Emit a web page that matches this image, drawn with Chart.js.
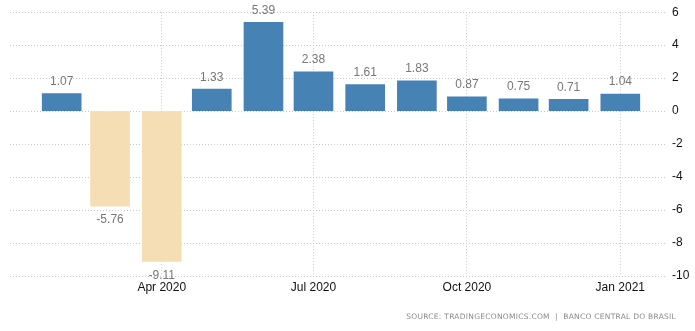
<!DOCTYPE html>
<html>
<head>
<meta charset="utf-8">
<script src="https://cdn.jsdelivr.net/npm/chart.js@4/dist/chart.umd.min.js"></script>
<style>
  body { margin: 0; background: #fff; }
  #wrap { position: relative; width: 695px; height: 331px; }
  #source {
    position: absolute; right: 19px; top: 312px;
    font: 7.5px "DejaVu Sans", sans-serif; color: #8a8a8a;
    letter-spacing: 0.27px; white-space: nowrap;
  }
</style>
</head>
<body>
<div id="wrap">
  <canvas id="chart" width="695" height="331"></canvas>
  <div id="source">SOURCE: TRADINGECONOMICS.COM&nbsp; | &nbsp;BANCO CENTRAL DO BRASIL</div>
</div>
<script>
// monthly change, Feb 2020 - Jan 2021
var months = ['2020-02-01','2020-03-01','2020-04-01','2020-05-01','2020-06-01','2020-07-01',
              '2020-08-01','2020-09-01','2020-10-01','2020-11-01','2020-12-01','2021-01-01'];
var values = [1.07, -5.76, -9.11, 1.33, 5.39, 2.38, 1.61, 1.83, 0.87, 0.75, 0.71, 1.04];
var tickMonths = ['2020-04-01','2020-07-01','2020-10-01','2021-01-01'];
var tickLabels = ['Apr 2020','Jul 2020','Oct 2020','Jan 2021'];
var yTicks = [-10, -8, -6, -4, -2, 0, 2, 4, 6];

// days since 1 Jan 2020, so bars sit on a time-like linear axis
function dayOf(s) {
  var p = s.split('-');
  return (Date.UTC(+p[0], +p[1] - 1, +p[2]) - Date.UTC(2020, 0, 1)) / 86400000;
}

var points = [];
for (var i = 0; i < months.length; i++) {
  points.push({ x: dayOf(months[i]), y: values[i] });
}
var tickDays = tickMonths.map(dayOf);

var valueLabels = {
  id: 'valueLabels',
  afterDatasetsDraw: function(chart) {
    var ctx = chart.ctx;
    var meta = chart.getDatasetMeta(0);
    ctx.save();
    ctx.font = '12px "Liberation Sans", Arial, sans-serif';
    ctx.fillStyle = '#777';
    ctx.textAlign = 'center';
    ctx.textBaseline = 'middle';
    meta.data.forEach(function(bar, i) {
      var v = values[i];
      var y = v >= 0 ? bar.y - 12 : bar.y + 14;
      ctx.fillText(v.toFixed(2), bar.x, y);
    });
    ctx.restore();
  }
};

var gridDash = [1, 2];

new Chart(document.getElementById('chart').getContext('2d'), {
  type: 'bar',
  data: {
    datasets: [{
      data: points,
      backgroundColor: values.map(function(v) { return v >= 0 ? '#4682B4' : '#F5DEB3'; }),
      barThickness: 39,
      borderWidth: 0
    }]
  },
  options: {
    responsive: false,
    animation: false,
    layout: { padding: { left: 10, top: 11, right: 0, bottom: 0 } },
    plugins: { legend: { display: false }, tooltip: { enabled: false } },
    scales: {
      x: {
        type: 'linear',
        min: 0,
        max: 394,
        offset: false,
        afterBuildTicks: function(scale) {
          scale.ticks = tickDays.map(function(d) { return { value: d }; });
        },
        afterFit: function(scale) { scale.height = 55; },
        ticks: {
          autoSkip: false,
          maxRotation: 0,
          padding: 4,
          color: '#111',
          font: { family: '"Liberation Sans", Arial, sans-serif', size: 12 },
          callback: function(val) {
            var k = tickDays.indexOf(val);
            return k >= 0 ? tickLabels[k] : '';
          }
        },
        grid: { color: '#c8c8c8', drawTicks: false, offset: false },
        border: { display: false, dash: gridDash }
      },
      y: {
        position: 'right',
        min: -10,
        max: 6,
        afterBuildTicks: function(scale) {
          scale.ticks = yTicks.map(function(v) { return { value: v }; });
        },
        afterFit: function(scale) { scale.width = 28; },
        ticks: {
          padding: 5,
          color: '#111',
          font: { family: '"Liberation Sans", Arial, sans-serif', size: 12 }
        },
        grid: { color: '#c8c8c8', drawTicks: false },
        border: { display: false, dash: gridDash }
      }
    }
  },
  plugins: [valueLabels]
});
</script>
</body>
</html>
